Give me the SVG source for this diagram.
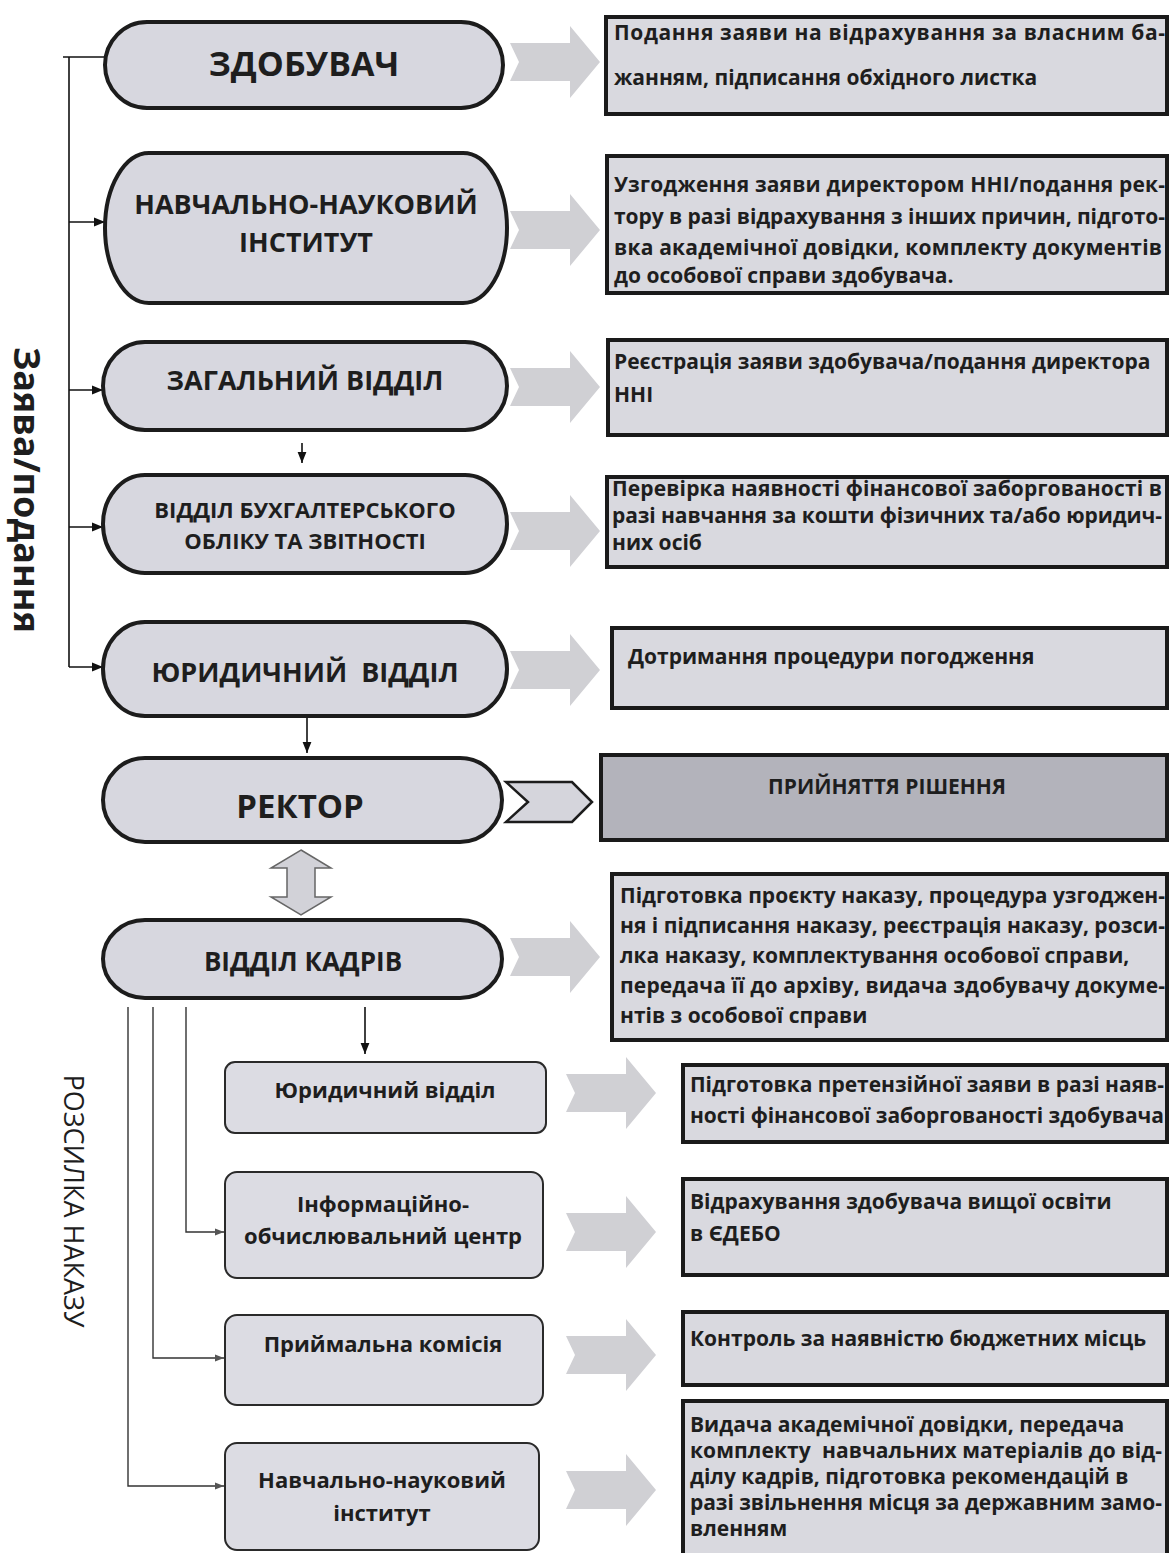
<svg xmlns="http://www.w3.org/2000/svg" xmlns:xlink="http://www.w3.org/1999/xlink" width="1171" height="1553" viewBox="0 0 1171 1553">
<style>
.node{fill:#d7d7df;stroke:#1c1c1c;stroke-width:4}
.sub{fill:#dcdce3;stroke:#2a2a2a;stroke-width:2}
.box{fill:#d9d9df;stroke:#1a1a1a;stroke-width:4}
.dbox{fill:#b3b3bb;stroke:#1a1a1a;stroke-width:4}
.ga{fill:#d0d0d4}
.nt{font-family:"Open Sans","Noto Sans",sans-serif;font-weight:700;fill:#1e1e1e;text-anchor:middle}
.bt{font-family:"Open Sans","Noto Sans",sans-serif;font-weight:700;font-size:21px;fill:#1e1e1e}
.st{font-family:"Open Sans","Noto Sans",sans-serif;font-weight:700;font-size:22px;fill:#1e1e1e;text-anchor:middle}
.ln{fill:none;stroke:#111;stroke-width:1.6}
.ln2{fill:none;stroke:#333;stroke-width:1.4}
</style>
<defs>
<marker id="ah" viewBox="0 0 10 10" refX="10" refY="5" markerWidth="11" markerHeight="11" markerUnits="userSpaceOnUse" orient="auto"><path d="M0,1 L10,5 L0,9 Z" fill="#111"/></marker>
<marker id="ah2" viewBox="0 0 10 10" refX="10" refY="5" markerWidth="9" markerHeight="9" markerUnits="userSpaceOnUse" orient="auto"><path d="M0,1 L10,5 L0,9 Z" fill="#555"/></marker>
<path id="garrow" d="M0,-19 L60,-19 L60,-36 L90,0 L60,36 L60,19 L0,19 L9,0 Z"/>
</defs>
<rect width="1171" height="1553" fill="#ffffff"/>

<text class="nt" font-size="36" transform="translate(27,490) rotate(90)" y="13">Заява/подання</text>
<text font-family="'Open Sans','Noto Sans',sans-serif" font-size="27" fill="#1e1e1e" text-anchor="middle" transform="translate(74,1201) rotate(90)" y="10">РОЗСИЛКА НАКАЗУ</text>

<g id="connectors">
<path class="ln" d="M69,57 V667"/>
<path class="ln" d="M63,57 H107"/>
<path class="ln" d="M69,222 H105" marker-end="url(#ah)"/>
<path class="ln" d="M69,390 H103" marker-end="url(#ah)"/>
<path class="ln" d="M69,527 H103" marker-end="url(#ah)"/>
<path class="ln" d="M69,667 H103" marker-end="url(#ah)"/>
<path class="ln" d="M302,443 V463" marker-end="url(#ah)"/>
<path class="ln" d="M307,717 V753" marker-end="url(#ah)"/>
<path class="ln" d="M365,1007 V1054" marker-end="url(#ah)"/>
<path class="ln2" d="M128,1007 V1486 H224" marker-end="url(#ah2)"/>
<path class="ln2" d="M153,1007 V1358 H224" marker-end="url(#ah2)"/>
<path class="ln2" d="M186,1007 V1232 H224" marker-end="url(#ah2)"/>
<path d="M301,850 L331,868 L315,868 L315,897 L331,897 L301,915 L271,897 L287,897 L287,868 L271,868 Z" fill="#d2d2d8" stroke="#666" stroke-width="1.5"/>
<path d="M506,782 L572,782 L592,802 L572,822 L506,822 L528,802 Z" fill="#d5d5dc" stroke="#1c1c1c" stroke-width="2.5"/>
<g class="ga">
<use xlink:href="#garrow" x="510" y="62"/>
<use xlink:href="#garrow" x="510" y="230"/>
<use xlink:href="#garrow" x="510" y="387"/>
<use xlink:href="#garrow" x="510" y="531"/>
<use xlink:href="#garrow" x="510" y="670"/>
<use xlink:href="#garrow" x="510" y="957"/>
<use xlink:href="#garrow" x="566" y="1093"/>
<use xlink:href="#garrow" x="566" y="1232"/>
<use xlink:href="#garrow" x="566" y="1355"/>
<use xlink:href="#garrow" x="566" y="1490"/>
</g>
</g>

<g id="n-zdobuvach"><rect class="node" x="105" y="22" width="398" height="86" rx="42" ry="43"/><text class="nt" x="304" y="76" font-size="34">ЗДОБУВАЧ</text></g>
<g id="n-nni"><rect class="node" x="105" y="153" width="402" height="150" rx="44" ry="75"/><text class="nt" x="306" y="214" font-size="27">НАВЧАЛЬНО-НАУКОВИЙ</text><text class="nt" x="306" y="252" font-size="27">ІНСТИТУТ</text></g>
<g id="n-zagalnyi"><rect class="node" x="103" y="342" width="404" height="88" rx="42" ry="44"/><text class="nt" x="305" y="390" font-size="27">ЗАГАЛЬНИЙ ВІДДІЛ</text></g>
<g id="n-buh"><rect class="node" x="103" y="475" width="404" height="98" rx="42" ry="49"/><text class="nt" x="305" y="518" font-size="22">ВІДДІЛ БУХГАЛТЕРСЬКОГО</text><text class="nt" x="305" y="549" font-size="22">ОБЛІКУ ТА ЗВІТНОСТІ</text></g>
<g id="n-yur"><rect class="node" x="103" y="622" width="404" height="94" rx="42" ry="47"/><text class="nt" x="305" y="682" font-size="27" xml:space="preserve">ЮРИДИЧНИЙ  ВІДДІЛ</text></g>
<g id="n-rektor"><rect class="node" x="103" y="758" width="399" height="84" rx="42" ry="42"/><text class="nt" x="300" y="818" font-size="33">РЕКТОР</text></g>
<g id="n-kadry"><rect class="node" x="103" y="920" width="399" height="78" rx="42" ry="39"/><text class="nt" x="303" y="971" font-size="26">ВІДДІЛ КАДРІВ</text></g>

<g id="s-yur"><rect class="sub" x="225" y="1062" width="321" height="71" rx="10"/><text class="st" x="385" y="1098">Юридичний відділ</text></g>
<g id="s-ioc"><rect class="sub" x="225" y="1172" width="318" height="106" rx="12"/><text class="st" x="383" y="1212">Інформаційно-</text><text class="st" x="383" y="1244">обчислювальний центр</text></g>
<g id="s-pk"><rect class="sub" x="225" y="1315" width="318" height="90" rx="12"/><text class="st" x="383" y="1352">Приймальна комісія</text></g>
<g id="s-nni"><rect class="sub" x="225" y="1443" width="314" height="107" rx="12"/><text class="st" x="382" y="1488">Навчально-науковий</text><text class="st" x="382" y="1521">інститут</text></g>

<g id="b1"><rect class="box" x="606" y="17" width="561" height="97"/>
<text class="bt" x="614" y="40" textLength="551" lengthAdjust="spacing">Подання заяви на відрахування за власним ба-</text>
<text class="bt" x="614" y="85">жанням, підписання обхідного листка</text></g>
<g id="b2"><rect class="box" x="607" y="156" width="560" height="137"/>
<text class="bt" x="614" y="192" textLength="551" lengthAdjust="spacing">Узгодження заяви директором ННІ/подання рек-</text>
<text class="bt" x="614" y="224" textLength="551" lengthAdjust="spacing">тору в разі відрахування з інших причин, підгото-</text>
<text class="bt" x="614" y="255" textLength="548" lengthAdjust="spacing">вка академічної довідки, комплекту документів</text>
<text class="bt" x="614" y="283">до особової справи здобувача.</text></g>
<g id="b3"><rect class="box" x="608" y="340" width="559" height="95"/>
<text class="bt" x="614" y="369">Реєстрація заяви здобувача/подання директора</text>
<text class="bt" x="614" y="402">ННІ</text></g>
<g id="b4"><rect class="box" x="607" y="477" width="560" height="90"/>
<text class="bt" x="612" y="496" font-size="20" textLength="550" lengthAdjust="spacing">Перевірка наявності фінансової заборгованості в</text>
<text class="bt" x="612" y="523" font-size="20" textLength="550" lengthAdjust="spacing">разі навчання за кошти фізичних та/або юридич-</text>
<text class="bt" x="612" y="550" font-size="20">них осіб</text></g>
<g id="b5"><rect class="box" x="612" y="628" width="555" height="80"/>
<text class="bt" x="628" y="664">Дотримання процедури погодження</text></g>
<g id="b-dec"><rect class="dbox" x="601" y="755" width="566" height="85"/>
<text class="bt" x="887" y="794" font-size="19" text-anchor="middle">ПРИЙНЯТТЯ РІШЕННЯ</text></g>
<g id="b6"><rect class="box" x="612" y="874" width="555" height="166"/>
<text class="bt" x="620" y="903" textLength="545" lengthAdjust="spacing">Підготовка проєкту наказу, процедура узгоджен-</text>
<text class="bt" x="620" y="933" textLength="545" lengthAdjust="spacing">ня і підписання наказу, реєстрація наказу, розси-</text>
<text class="bt" x="620" y="963">лка наказу, комплектування особової справи,</text>
<text class="bt" x="620" y="993" textLength="545" lengthAdjust="spacing">передача її до архіву, видача здобувачу докуме-</text>
<text class="bt" x="620" y="1023">нтів з особової справи</text></g>
<g id="b7"><rect class="box" x="683" y="1065" width="484" height="77"/>
<text class="bt" x="690" y="1092" textLength="474" lengthAdjust="spacing">Підготовка претензійної заяви в разі наяв-</text>
<text class="bt" x="690" y="1123" textLength="474" lengthAdjust="spacing">ності фінансової заборгованості здобувача</text></g>
<g id="b8"><rect class="box" x="683" y="1179" width="484" height="96"/>
<text class="bt" x="690" y="1209">Відрахування здобувача вищої освіти</text>
<text class="bt" x="690" y="1241">в ЄДЕБО</text></g>
<g id="b9"><rect class="box" x="683" y="1312" width="484" height="73"/>
<text class="bt" x="690" y="1346">Контроль за наявністю бюджетних місць</text></g>
<g id="b10"><rect class="box" x="683" y="1401" width="484" height="160"/>
<text class="bt" x="690" y="1432">Видача академічної довідки, передача</text>
<text class="bt" x="690" y="1458" textLength="472" lengthAdjust="spacing" xml:space="preserve">комплекту  навчальних матеріалів до від-</text>
<text class="bt" x="690" y="1484">ділу кадрів, підготовка рекомендацій в</text>
<text class="bt" x="690" y="1510" textLength="472" lengthAdjust="spacing">разі звільнення місця за державним замо-</text>
<text class="bt" x="690" y="1536">вленням</text></g>
</svg>
